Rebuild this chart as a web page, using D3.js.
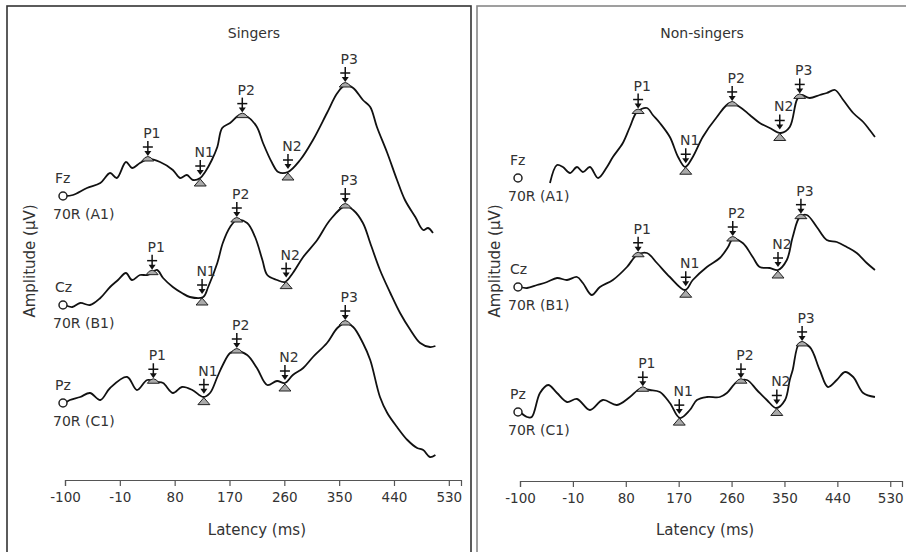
<!DOCTYPE html>
<html>
<head>
<meta charset="utf-8">
<script src="https://cdn.jsdelivr.net/npm/d3@7"></script>
<style>
  body { margin: 0; background: #fff; }
  svg { display: block; font-family: "DejaVu Sans", sans-serif; }
  text { fill: #333; }
</style>
</head>
<body>
<svg width="906" height="552"></svg>
<script>
// latency axis
const latencyTicks = [-100, -10, 80, 170, 260, 350, 440, 530];
const channels = ["Fz", "Cz", "Pz"];
const references = ["70R (A1)", "70R (B1)", "70R (C1)"];
const components = ["P1", "N1", "P2", "N2", "P3"];

// channel offsets (uV) used to stack the traces
const singersOffset = [28.4, 17.5, 7.7];
const nonSingersOffset = [30.2, 19.3, 6.8];

// component latencies (ms) per channel
const singersPeaks = [[36, 122, 191, 266, 360], [43, 125, 182, 263, 360], [45, 128, 182, 261, 360]];
const nonSingersPeaks = [[101, 182, 261, 342, 376], [101, 182, 262, 339, 378], [109, 171, 276, 337, 380]];

// waveforms: [latency ms, amplitude uV]
const singersFz = [[-100,0],[-87,0.1],[-64,0.8],[-42,1.3],[-26,2.3],[-15,1.8],[0,3.4],[10,2.8],[23,3.3],[36,3.7],[56,3.4],[77,2.6],[89,1.8],[100,2.1],[110,1.6],[122,1.8],[130,2.4],[141,3.6],[150,4.9],[158,6.8],[171,7.3],[187,8.1],[200,7.9],[215,6.9],[225,5.3],[240,3.3],[250,2.4],[266,2.4],[286,3.6],[307,5.6],[330,8.3],[347,10.3],[360,11.1],[373,10.8],[389,9.6],[401,8.9],[412,6.9],[429,4.3],[445,1.6],[458,-0.4],[475,-2.1],[488,-3.4],[496,-3.2],[504,-3.7]];
const singersCz = [[-100,0],[-88,-0.2],[-75,0.2],[-59,0],[-42,0.7],[-26,1.8],[-13,2.5],[0,3.2],[10,2.5],[23,3.0],[36,3.0],[51,3.5],[61,2.7],[77,1.8],[92,1.2],[105,0.8],[127,0.8],[135,1.8],[150,4.2],[159,6.2],[171,7.8],[182,8.5],[199,8.2],[212,6.8],[224,4.5],[232,3.0],[248,2.5],[261,2.3],[274,3.2],[291,4.8],[314,6.5],[335,8.5],[360,9.9],[373,9.5],[389,8.2],[401,6.2],[417,3.5],[434,1.2],[450,-0.8],[467,-2.5],[483,-3.8],[499,-4.2],[508,-4.1]];
const singersPz = [[-100,0],[-92,0.3],[-75,0.6],[-59,1.0],[-42,0.3],[-26,1.5],[2,2.6],[18,1.3],[35,2.3],[51,2.1],[61,2.0],[77,1.0],[92,1.6],[109,1.3],[127,0.6],[138,1.0],[150,2.6],[159,3.8],[171,5.0],[182,5.2],[199,4.8],[215,3.5],[232,1.8],[248,2.2],[261,2.0],[274,2.8],[291,3.5],[307,4.6],[330,6.0],[347,7.5],[360,8.0],[373,7.6],[389,6.0],[401,4.3],[417,0.6],[429,-1.0],[445,-2.4],[462,-3.7],[478,-4.5],[488,-4.7],[499,-5.4],[508,-5.2]];
const nonSingersFz = [[-49,-0.5],[-37,1.3],[-27,1.1],[-15,0.5],[-3,1.1],[7,0.6],[19,1.1],[33,0],[48,1.1],[58,2.1],[75,3.5],[87,5.1],[99,6.6],[116,7.0],[126,6.3],[138,5.5],[155,4.1],[169,2.1],[181,1.1],[194,2.1],[211,4.1],[235,6.1],[257,7.5],[274,7.1],[291,6.3],[308,5.5],[325,5.0],[344,4.5],[359,5.1],[371,7.8],[378,8.3],[393,8.0],[410,8.3],[422,8.5],[436,8.8],[450,7.8],[467,6.5],[484,5.6],[495,4.8],[504,4.1]];
const nonSingersCz = [[-100,0],[-88,-0.1],[-71,0.2],[-54,0.5],[-37,0.9],[-20,0.7],[-3,1.0],[7,0.4],[22,-0.8],[36,0],[58,0.7],[82,2.0],[99,3.2],[116,3.4],[133,2.4],[155,1.0],[181,-0.3],[194,0.7],[218,2.0],[240,2.9],[254,4.0],[262,4.8],[279,4.4],[296,3.0],[308,2.0],[325,1.9],[339,1.7],[354,2.7],[364,5.0],[376,7.0],[388,7.2],[405,6.0],[422,4.7],[439,4.5],[456,4.0],[473,3.4],[490,2.4],[504,1.7]];
const nonSingersPz = [[-100,0],[-88,-0.5],[-80,-0.5],[-66,1.9],[-52,2.7],[-37,1.9],[-20,1.0],[-3,1.3],[19,0.2],[41,1.2],[65,0.7],[87,1.5],[104,2.3],[121,2.2],[138,2.0],[155,0.9],[172,-0.6],[189,0.2],[201,1.2],[218,1.5],[240,1.5],[252,1.9],[269,3.0],[286,3.2],[303,2.2],[320,1.2],[336,0.4],[351,1.2],[359,3.2],[364,4.2],[376,6.9],[393,6.5],[410,4.2],[424,2.5],[439,3.2],[453,4.0],[467,3.5],[484,1.9],[504,1.5]];

const svg = d3.select("svg");

const panels = [
  { title: "Singers", left: 7, right: 471, border: "#333", x0: 65, x1: 461, axisY: 480, ylab: 30,
    traces: [singersFz, singersCz, singersPz], offset: singersOffset, peaks: singersPeaks },
  { title: "Non-singers", left: 477, right: 912, border: "#888", x0: 520, x1: 902, axisY: 481, ylab: 495,
    traces: [nonSingersFz, nonSingersCz, nonSingersPz], offset: nonSingersOffset, peaks: nonSingersPeaks }
];

const bisect = d3.bisector(d => d[0]).left;
function valueAt(trace, ms) {
  let i = bisect(trace, ms);
  if (i <= 0) return trace[0][1];
  if (i >= trace.length) return trace[trace.length - 1][1];
  const a = trace[i - 1], b = trace[i];
  return a[1] + (b[1] - a[1]) * (ms - a[0]) / (b[0] - a[0]);
}

panels.forEach(p => {
  const g = svg.append("g");
  g.append("rect")
    .attr("x", p.left).attr("y", 6)
    .attr("width", p.right - p.left).attr("height", 560)
    .attr("fill", "none").attr("stroke", p.border).attr("stroke-width", 1.6);

  const x = d3.scaleLinear().domain([-100, 550]).range([p.x0, p.x1]);
  const y = d3.scaleLinear().domain([0, 44]).range([480, 40]);

  const axis = g.append("g")
    .attr("transform", "translate(0," + p.axisY + ")")
    .call(d3.axisBottom(x).tickValues(latencyTicks).tickFormat(d => String(d))
      .tickSizeOuter(0).tickSize(6).tickPadding(6));
  axis.selectAll("path, line").attr("stroke", "#555").attr("stroke-width", 1.2);
  axis.selectAll("text").style("font-size", "13.5px").style("font-family", "DejaVu Sans").attr("fill", "#333");

  const cx = (p.x0 + x(530)) / 2;
  g.append("text").attr("x", cx).attr("y", 530).attr("text-anchor", "middle")
    .attr("dominant-baseline", "central").style("font-size", "15px").text("Latency (ms)");
  g.append("text").attr("x", cx - 3).attr("y", 33).attr("text-anchor", "middle")
    .attr("dominant-baseline", "central").style("font-size", "14px").text(p.title);
  g.append("text").attr("transform", "translate(" + p.ylab + ",261) rotate(-90)")
    .attr("text-anchor", "middle").attr("dominant-baseline", "central")
    .style("font-size", "15px").text("Amplitude (\u00b5V)");

  p.traces.forEach((trace, c) => {
    const off = p.offset[c];
    const line = d3.line()
      .x(d => x(d[0]))
      .y(d => y(off + d[1]))
      .curve(d3.curveCatmullRom.alpha(0.5));
    g.append("path").datum(trace)
      .attr("d", line).attr("fill", "none")
      .attr("stroke", "#111").attr("stroke-width", 1.8).attr("stroke-linejoin", "round");

    const by = y(off);
    g.append("circle").attr("cx", x(-100) - 2).attr("cy", by).attr("r", 4)
      .attr("fill", "#fff").attr("stroke", "#222").attr("stroke-width", 1.5);
    g.append("text").attr("x", x(-100) - 10).attr("y", by - 18)
      .attr("dominant-baseline", "central").style("font-size", "14px").text(channels[c]);
    g.append("text").attr("x", x(-100) - 12).attr("y", by + 18)
      .attr("dominant-baseline", "central").style("font-size", "14px").text(references[c]);

    p.peaks[c].forEach((ms, k) => {
      const name = components[k];
      const px = x(ms);
      const py = y(off + valueAt(trace, ms));
      const m = g.append("g");
      // arrow
      m.append("line").attr("x1", px).attr("x2", px).attr("y1", py - 18).attr("y2", py - 6)
        .attr("stroke", "#111").attr("stroke-width", 1.5);
      m.append("line").attr("x1", px - 5).attr("x2", px + 5).attr("y1", py - 12).attr("y2", py - 12)
        .attr("stroke", "#111").attr("stroke-width", 1.5);
      m.append("path").attr("d", `M${px - 3.5},${py - 8}L${px + 3.5},${py - 8}L${px},${py - 3}Z`)
        .attr("fill", "#111");
      if (name[0] === "P") {
        m.append("path").attr("d", `M${px - 6},${py + 2}Q${px},${py - 7} ${px + 6},${py + 2}Z`)
          .attr("fill", "#aaa").attr("stroke", "#222").attr("stroke-width", 1);
      } else {
        m.append("path").attr("d", `M${px - 6},${py + 8}L${px},${py + 1}L${px + 6},${py + 8}Z`)
          .attr("fill", "#aaa").attr("stroke", "#222").attr("stroke-width", 1);
      }
      m.append("text").attr("x", px + 4).attr("y", py - 26)
        .attr("text-anchor", "middle").attr("dominant-baseline", "central")
        .style("font-size", "14px").text(name);
    });
  });
});
</script>
</body>
</html>
